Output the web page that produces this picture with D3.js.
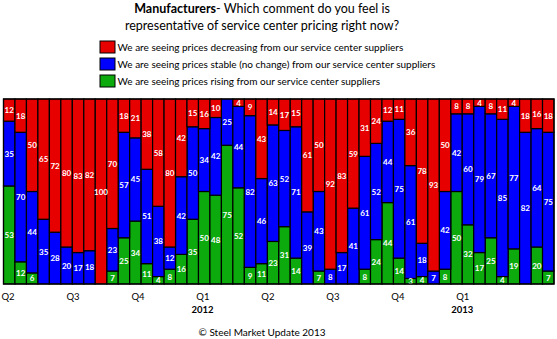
<!DOCTYPE html>
<html>
<head>
<meta charset="utf-8">
<script src="https://cdn.jsdelivr.net/npm/d3@7"></script>
<style>
  html, body { margin: 0; padding: 0; background: #fff; }
  svg { display: block; font-family: Lato, "Open Sans", sans-serif; }
</style>
</head>
<body>
<svg id="chart" width="557" height="339"></svg>
<script>
// Survey responses (percent of manufacturers), one bar per survey
const decreasing = [12,18,50,65,72,80,83,82,100,70,18,21,38,58,80,42,15,16,10,0,4,9,43,14,17,15,61,50,92,83,59,31,24,12,11,36,78,93,50,8,8,4,8,11,4,18,16,18];
const stable     = [35,70,44,35,28,20,17,18,0,23,57,45,51,38,12,42,50,34,42,25,44,82,46,63,52,71,39,43,8,17,41,61,52,44,75,61,18,7,42,42,60,79,67,85,77,82,64,75];
const rising     = [53,12,6,0,0,0,0,0,0,7,25,34,11,4,8,16,35,50,48,75,52,9,11,23,31,14,0,7,0,0,0,8,24,44,14,3,4,0,8,50,32,17,25,4,19,0,20,7];

const quarterLabels = ["Q2","Q3","Q4","Q1","Q2","Q3","Q4","Q1"];
const yearLabels    = ["","","","2012","","","","2013"];
const barsPerQuarter = 5.665;

const seriesNames = [
  "We are seeing prices decreasing from our service center suppliers",
  "We are seeing prices stable (no change) from our service center suppliers",
  "We are seeing prices rising from our service center suppliers"
];
const seriesColors = ["#E60000", "#0000FF", "#0DAA0D"];

const svg = d3.select("#chart");
const plot = { left: 3.5, right: 554, top: 99, bottom: 284 };

const rows = decreasing.map((d, i) => ({ i, rising: rising[i], stable: stable[i], decreasing: decreasing[i] }));
const keys = ["rising", "stable", "decreasing"];
const colorOf = { decreasing: seriesColors[0], stable: seriesColors[1], rising: seriesColors[2] };

const x = d3.scaleBand().domain(rows.map(r => r.i)).range([plot.left, plot.right]).padding(0);
const y = d3.scaleLinear().domain([0, 100]).range([plot.bottom, plot.top]);

const stacked = d3.stack().keys(keys)(rows);

// Title
const title = svg.append("text").attr("x", 262).attr("y", 13).attr("text-anchor", "middle")
  .attr("font-size", 12.5).attr("fill", "#000");
title.append("tspan").attr("font-weight", "bold").text("Manufacturers");
title.append("tspan").text("- Which comment do you feel is");
svg.append("text").attr("x", 262).attr("y", 30).attr("text-anchor", "middle")
  .attr("font-size", 12.5).attr("fill", "#000")
  .text("representative of service center pricing right now?");

// Legend
const legend = svg.append("g");
seriesNames.forEach((name, k) => {
  const ly = 41 + k * 17;
  legend.append("rect").attr("x", 100).attr("y", ly).attr("width", 15).attr("height", 12)
    .attr("fill", seriesColors[k]).attr("stroke", "#000").attr("stroke-width", 1);
  legend.append("text").attr("x", 117.5).attr("y", ly + 10).attr("font-size", 10)
    .attr("fill", "#000").text(name);
});

// Stacked bars
const layers = svg.append("g").selectAll("g").data(stacked).join("g")
  .attr("fill", d => colorOf[d.key]);
layers.selectAll("rect").data(d => d).join("rect")
  .attr("x", d => x(d.data.i))
  .attr("width", x.bandwidth())
  .attr("y", d => y(d[1]))
  .attr("height", d => y(d[0]) - y(d[1]))
  .attr("stroke", "#000").attr("stroke-width", 1.2);

// Value labels
const labels = svg.append("g").attr("font-size", 8).attr("font-weight", "bold")
  .attr("fill", "#fff").attr("text-anchor", "middle");
stacked.forEach(layer => {
  layer.forEach(d => {
    const v = d.data[layer.key];
    if (!v) return;
    labels.append("text")
      .attr("x", x(d.data.i) + x.bandwidth() / 2)
      .attr("y", (y(d[0]) + y(d[1])) / 2 + 3)
      .text(v);
  });
});

// Plot frame
svg.append("rect").attr("x", plot.left).attr("y", plot.top)
  .attr("width", plot.right - plot.left).attr("height", plot.bottom - plot.top)
  .attr("fill", "none").attr("stroke", "#000").attr("stroke-width", 1.2);

// Quarter axis (positions in bar units from the first survey)
const q = d3.scaleLinear().domain([0, rows.length]).range([plot.left, plot.right]);
const axis = svg.append("g").attr("transform", `translate(0,${plot.bottom})`)
  .call(d3.axisBottom(q)
    .tickValues(quarterLabels.map((_, k) => 0.35 + k * barsPerQuarter))
    .tickFormat((_, k) => quarterLabels[k])
    .tickSize(0).tickPadding(9));
axis.select(".domain").remove();
axis.selectAll("text").attr("font-size", 9.5).attr("font-family", "Lato, 'Open Sans', sans-serif").attr("fill", "#000");

yearLabels.forEach((lab, k) => {
  if (!lab) return;
  svg.append("text").attr("x", q(0.35 + k * barsPerQuarter)).attr("y", 313)
    .attr("text-anchor", "middle").attr("font-size", 9.5).attr("font-weight", "bold")
    .attr("fill", "#000").text(lab);
});

// Footer
svg.append("text").attr("x", 262).attr("y", 336).attr("text-anchor", "middle")
  .attr("font-size", 10).attr("fill", "#000").text("© Steel Market Update 2013");
</script>
</body>
</html>
